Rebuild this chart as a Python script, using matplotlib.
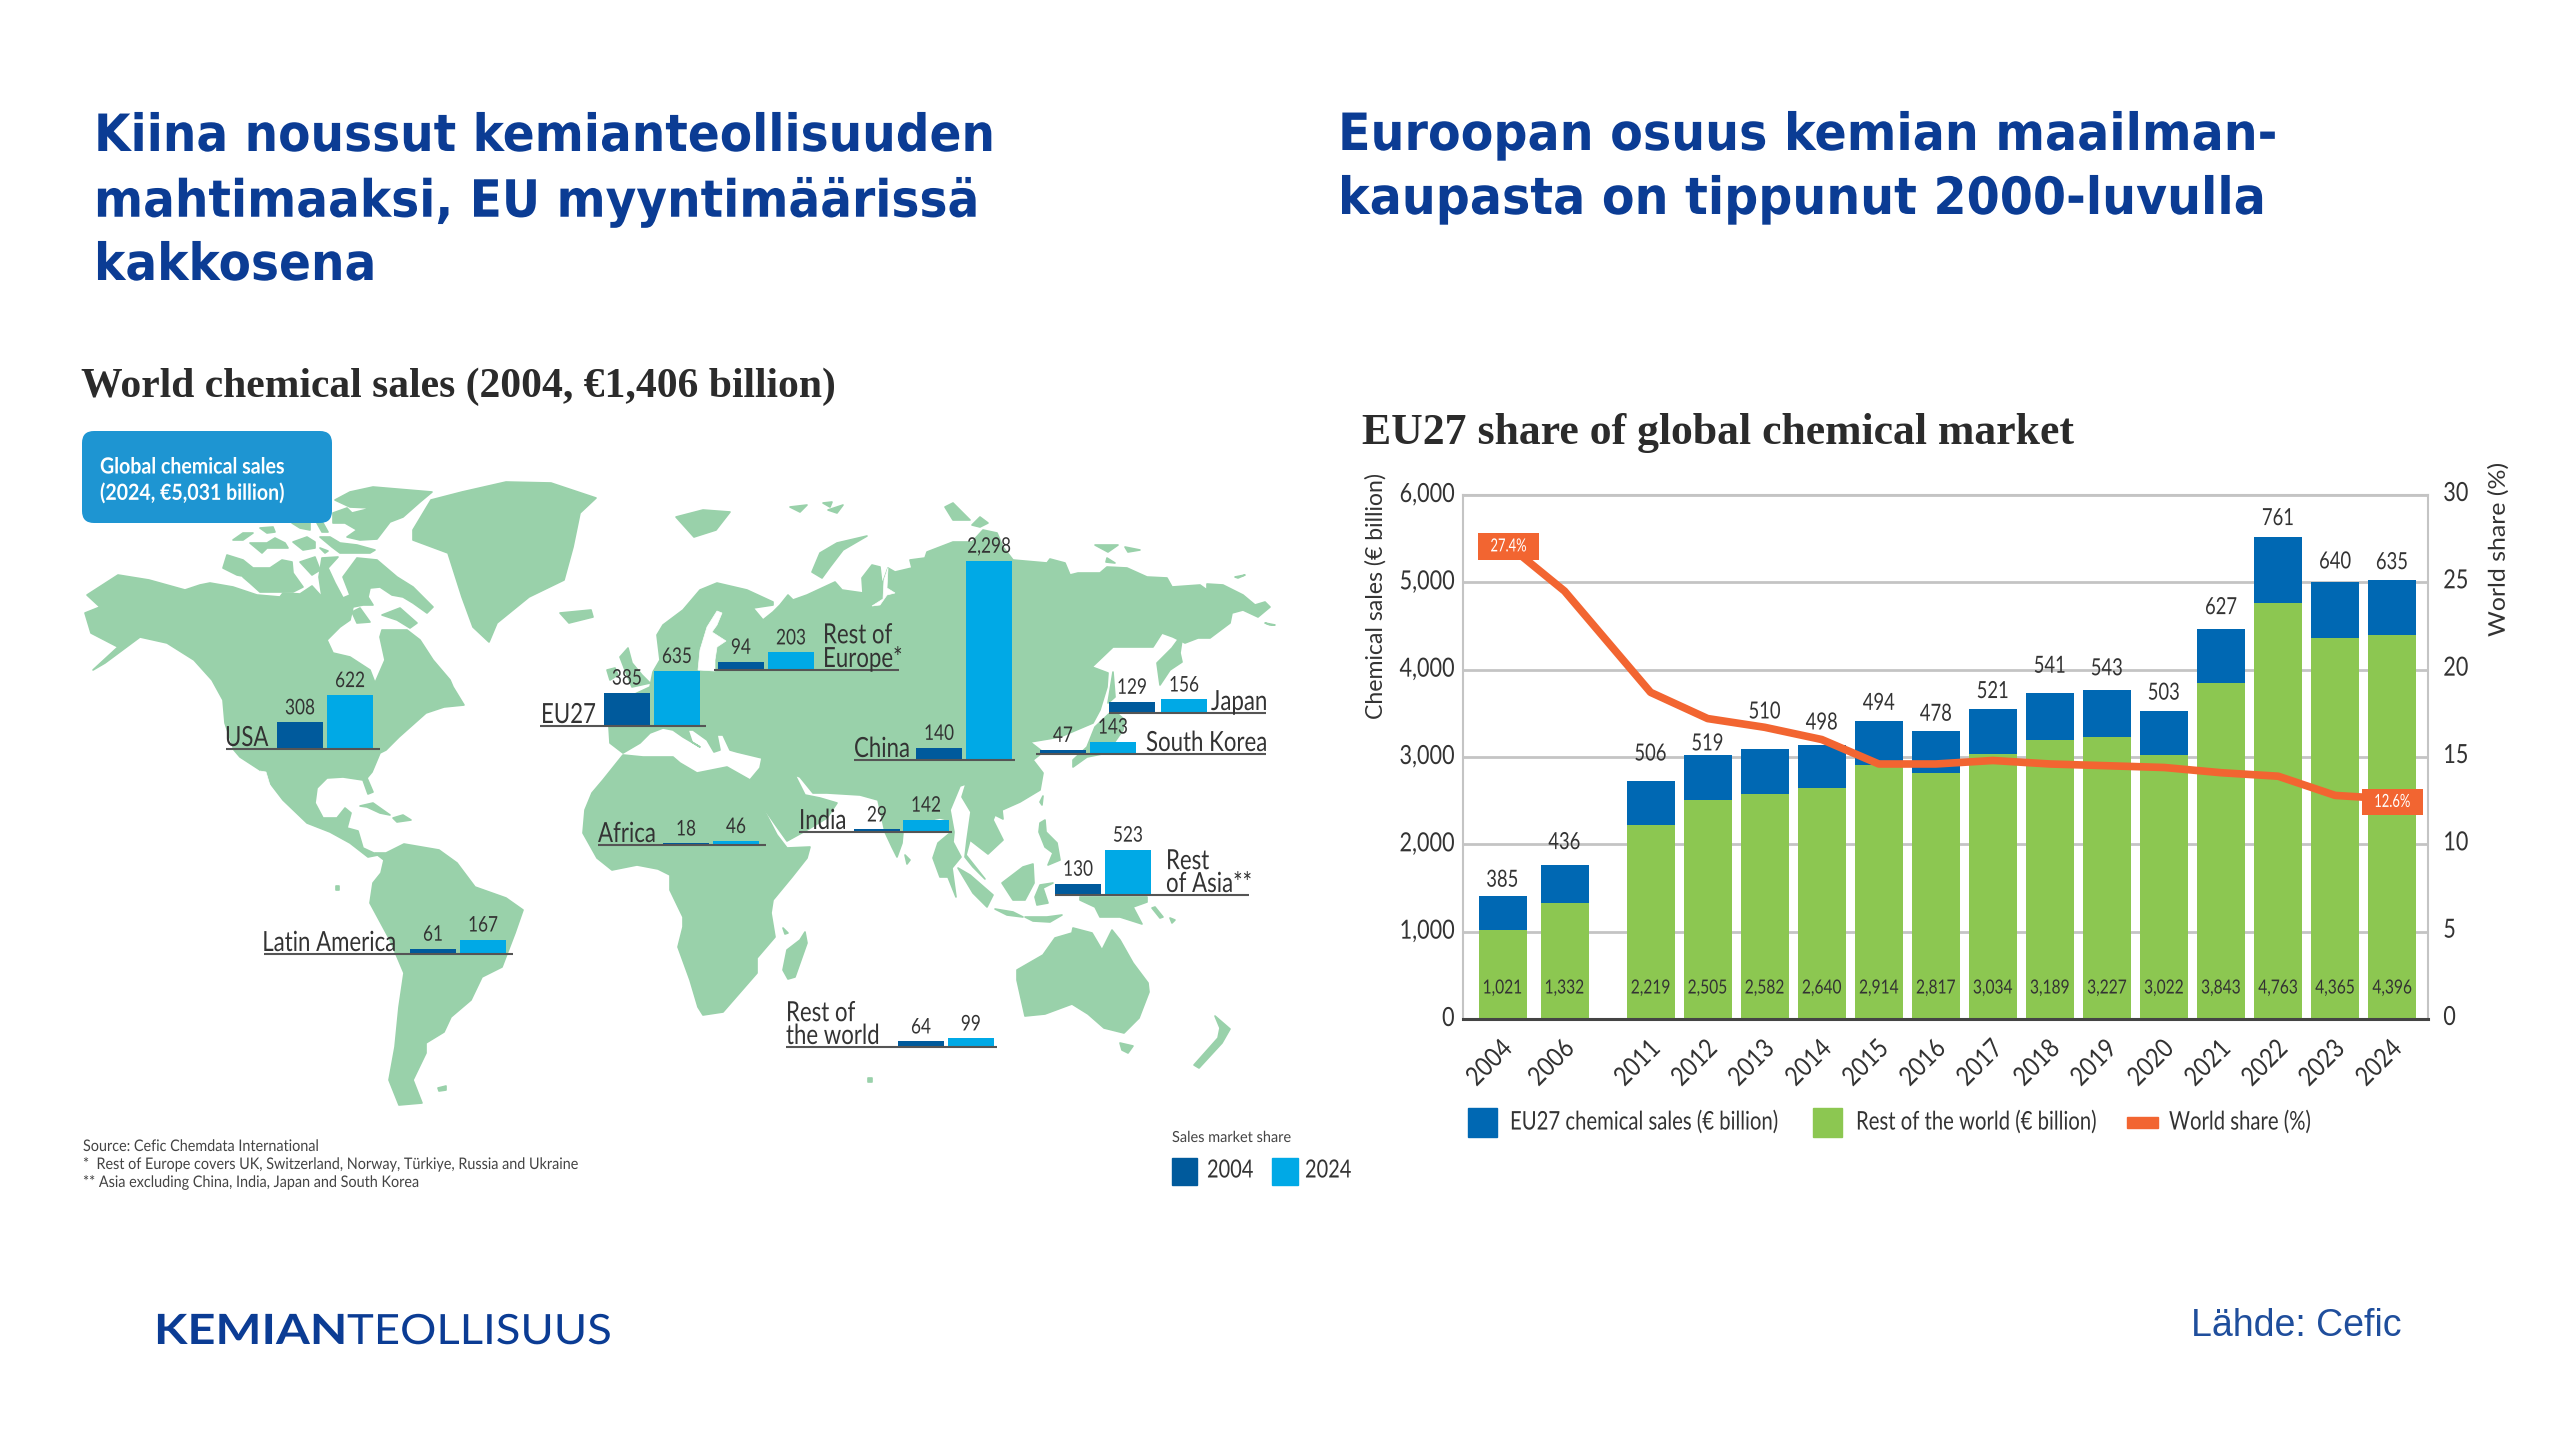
import matplotlib
matplotlib.use("Agg")
from matplotlib import pyplot as plt
from matplotlib.patches import FancyBboxPatch, Polygon, Rectangle
from matplotlib.patheffects import AbstractPathEffect
from matplotlib.transforms import Affine2D

# bar chart values
years = ["2004", "2006", "2011", "2012", "2013", "2014", "2015", "2016", "2017", "2018", "2019", "2020", "2021", "2022", "2023", "2024"]
eu27_sales = [385, 436, 506, 519, 510, 498, 494, 478, 521, 541, 543, 503, 627, 761, 640, 635]
rest_sales = [1021, 1332, 2219, 2505, 2582, 2640, 2914, 2817, 3034, 3189, 3227, 3022, 3843, 4763, 4365, 4396]
world_share = [27.4, 24.5, 18.7, 17.2, 16.7, 16.0, 14.6, 14.6, 14.8, 14.6, 14.5, 14.4, 14.1, 13.9, 12.8, 12.6]

# map values
regions = ["USA", "EU27", "Rest of\nEurope*", "China", "Japan", "South Korea", "India", "Africa", "Rest\nof Asia**", "Rest of\nthe world", "Latin America"]
sales_2004 = [308, 385, 94, 140, 129, 47, 29, 18, 130, 64, 61]
sales_2024 = [622, 635, 203, 2298, 156, 143, 142, 46, 523, 99, 167]

# where each region's little bars sit on the slide, in pixels
dark_left = [277, 604, 718, 916, 1109, 1040, 854, 663, 1055, 898, 410]
light_left = [327, 654, 768, 966, 1161, 1090, 903, 713, 1105, 948, 460]
base_y = [749, 726, 670, 760, 713, 754, 832, 845, 895, 1047, 954]
rule_x = [(226, 380), (540, 706), (714, 899), (854, 1015), (1109, 1266), (1036, 1266), (799, 952), (598, 766), (1055, 1249), (786, 997), (264, 513)]
label_x = [225, 541, 823, 854, 1211, 1146, 799, 598, 1166, 786, 397]
label_ha = ["left"] * 10 + ["right"]

BLUE_TITLE = "#0b3c94"
LAND = "#99d1aa"
DARK = "#005a9c"
LIGHT = "#00a9e6"
TEXT = "#333333"
GREEN = "#8cc751"
BLUE = "#0068b3"
ORANGE = "#f26531"
GRID = "#c4c4c4"

# land shapes, pixels on the slide, traced by eye
north_america = [(87, 595), (118, 575), (149, 580), (185, 590), (200, 585), (210, 583), (233, 587), (257, 595), (280, 597), (283, 593), (300, 594), (312, 586), (322, 597), (319, 577), (322, 558), (338, 557), (328, 568), (335, 583), (343, 598), (350, 595), (343, 577), (357, 558), (377, 560), (397, 577), (413, 587), (433, 607), (427, 613), (413, 603), (403, 597), (392, 595), (380, 587), (370, 588), (368, 597), (373, 605), (363, 605), (353, 607), (350, 620), (340, 627), (327, 640), (333, 653), (350, 657), (370, 670), (375, 683), (385, 660), (380, 637), (382, 630), (407, 630), (420, 640), (433, 660), (450, 680), (453, 687), (464, 705), (444, 707), (426, 713), (399, 737), (386, 750), (380, 753), (372, 772), (367, 778), (373, 792), (368, 794), (363, 780), (343, 777), (327, 778), (317, 788), (315, 803), (323, 818), (337, 818), (345, 808), (351, 813), (347, 828), (358, 831), (363, 848), (378, 855), (368, 857), (350, 843), (330, 832), (307, 823), (283, 800), (260, 770), (240, 757), (234, 750), (225, 723), (223, 700), (212, 680), (194, 660), (167, 643), (140, 637), (105, 663), (93, 670), (118, 647), (91, 633), (85, 613), (100, 607)]
south_america = [(375, 853), (386, 853), (404, 844), (439, 850), (457, 863), (475, 887), (506, 898), (523, 910), (515, 933), (502, 967), (482, 977), (471, 1000), (451, 1017), (444, 1032), (426, 1043), (426, 1053), (413, 1080), (422, 1103), (399, 1105), (389, 1080), (395, 1047), (399, 1007), (404, 973), (390, 940), (370, 903), (373, 883), (381, 873), (384, 860)]
greenland = [(413, 530), (431, 500), (462, 492), (506, 482), (551, 483), (596, 498), (580, 513), (573, 547), (564, 580), (529, 597), (497, 623), (489, 642), (473, 627), (462, 597), (448, 553), (413, 540)]
eurasia = [(609, 727), (605, 708), (650, 687), (653, 672), (660, 660), (657, 635), (663, 625), (683, 610), (700, 590), (717, 583), (747, 590), (773, 602), (773, 605), (753, 608), (763, 620), (773, 612), (780, 605), (788, 595), (793, 600), (807, 595), (835, 582), (842, 590), (863, 593), (862, 578), (872, 565), (880, 567), (882, 585), (888, 568), (895, 572), (912, 568), (910, 560), (925, 558), (927, 552), (953, 542), (972, 542), (983, 530), (997, 533), (1003, 547), (1013, 560), (1047, 563), (1050, 559), (1065, 563), (1070, 575), (1078, 573), (1100, 573), (1107, 567), (1127, 568), (1147, 577), (1167, 578), (1172, 587), (1200, 585), (1207, 590), (1207, 584), (1223, 585), (1243, 595), (1255, 605), (1265, 602), (1270, 607), (1258, 617), (1243, 610), (1232, 613), (1230, 623), (1210, 638), (1198, 638), (1185, 643), (1173, 637), (1162, 633), (1153, 647), (1140, 647), (1113, 647), (1092, 667), (1108, 673), (1107, 687), (1100, 710), (1093, 723), (1060, 737), (1030, 742), (1043, 752), (1033, 760), (1043, 773), (1040, 790), (1020, 802), (1002, 810), (1003, 819), (995, 815), (993, 820), (1003, 840), (988, 854), (970, 840), (966, 855), (985, 879), (973, 867), (965, 857), (967, 840), (971, 812), (962, 797), (966, 784), (960, 786), (950, 810), (954, 832), (953, 842), (961, 857), (952, 868), (956, 897), (948, 877), (940, 877), (933, 858), (938, 843), (950, 833), (948, 820), (940, 818), (935, 819), (903, 832), (902, 843), (897, 857), (892, 847), (885, 832), (878, 800), (860, 795), (827, 793), (813, 793), (800, 777), (795, 775), (805, 795), (820, 798), (837, 803), (827, 818), (807, 830), (787, 841), (777, 827), (763, 807), (752, 785), (750, 780), (760, 768), (762, 758), (737, 752), (730, 750), (723, 735), (717, 735), (720, 750), (714, 752), (707, 740), (693, 730), (688, 730), (692, 742), (700, 747), (683, 737), (673, 730), (663, 728), (650, 733), (640, 743), (623, 753), (610, 743)]
africa = [(623, 755), (643, 757), (673, 757), (680, 763), (697, 773), (727, 767), (750, 780), (750, 783), (763, 808), (777, 835), (787, 848), (810, 847), (807, 858), (792, 877), (773, 900), (771, 913), (775, 937), (757, 958), (757, 973), (723, 1012), (703, 1015), (698, 1007), (690, 980), (678, 947), (683, 927), (683, 917), (670, 890), (670, 875), (658, 869), (637, 865), (612, 870), (597, 858), (583, 833), (585, 810), (592, 793), (603, 780)]
australia = [(1017, 970), (1043, 955), (1055, 938), (1072, 933), (1073, 928), (1092, 933), (1102, 950), (1112, 930), (1120, 940), (1133, 963), (1148, 983), (1149, 992), (1139, 1018), (1124, 1033), (1104, 1028), (1088, 1014), (1072, 1004), (1045, 1014), (1025, 1016), (1017, 980)]
islands = [
    [(227, 555), (243, 560), (253, 568), (270, 568), (282, 560), (292, 562), (293, 573), (303, 587), (293, 592), (260, 592), (250, 583), (243, 577), (263, 580), (237, 575), (223, 568)],
    [(300, 562), (315, 557), (320, 570), (312, 575)],
    [(233, 540), (243, 533), (253, 533), (243, 540)],
    [(250, 543), (267, 543), (275, 538), (285, 543), (288, 548), (267, 548), (262, 553)],
    [(293, 542), (307, 537), (315, 542), (315, 548), (303, 550)],
    [(320, 537), (330, 537), (340, 543), (357, 545), (375, 550), (370, 553), (340, 553), (332, 547)],
    [(260, 528), (273, 527), (275, 532), (267, 533)],
    [(320, 548), (328, 551), (325, 553)],
    [(292, 523), (310, 523), (310, 530), (300, 528)],
    [(317, 523), (323, 523), (328, 532), (322, 532)],
    [(335, 500), (350, 492), (373, 487), (432, 492), (420, 502), (403, 517), (390, 522), (377, 539), (360, 540), (347, 537), (357, 530), (345, 523), (333, 523), (333, 513), (347, 508), (352, 513), (372, 508), (350, 507)],
    [(352, 612), (360, 608), (370, 622), (357, 623)],
    [(382, 615), (400, 608), (417, 623), (410, 628), (397, 620)],
    [(560, 613), (591, 610), (593, 617), (569, 623)],
    [(676, 517), (703, 510), (730, 512), (716, 530), (694, 537)],
    [(360, 806), (373, 803), (390, 815), (380, 813), (367, 807)],
    [(393, 818), (403, 815), (411, 820), (397, 822)],
    [(620, 657), (628, 648), (632, 663), (642, 675), (650, 683), (632, 687), (625, 670)],
    [(607, 670), (615, 668), (618, 675), (610, 680)],
    [(805, 932), (807, 943), (795, 977), (788, 979), (783, 970), (787, 950), (800, 940)],
    [(783, 928), (788, 933), (785, 934)],
    [(905, 855), (910, 860), (907, 864)],
    [(1073, 767), (1087, 757), (1107, 753), (1123, 730), (1125, 720), (1113, 710), (1095, 727), (1087, 747), (1073, 760)],
    [(1108, 703), (1113, 672), (1115, 697)],
    [(1157, 663), (1172, 648), (1183, 633), (1180, 653), (1182, 662), (1170, 670), (1160, 685)],
    [(1095, 545), (1118, 545), (1108, 552)],
    [(1125, 547), (1140, 550), (1128, 552)],
    [(1107, 558), (1115, 563), (1106, 562)],
    [(1235, 577), (1245, 575), (1238, 578)],
    [(1265, 623), (1275, 625), (1270, 625)],
    [(945, 507), (953, 503), (970, 520), (953, 520)],
    [(972, 525), (980, 517), (988, 523), (980, 527)],
    [(812, 572), (820, 553), (837, 543), (867, 536), (843, 550), (830, 567), (822, 578)],
    [(790, 507), (807, 505), (800, 512)],
    [(823, 503), (832, 502), (830, 507)],
    [(828, 510), (843, 505), (837, 513)],
    [(1040, 823), (1045, 820), (1046, 832), (1057, 843), (1060, 860), (1048, 865), (1053, 853), (1045, 847), (1039, 832)],
    [(1040, 802), (1043, 796), (1042, 805)],
    [(1002, 883), (1023, 867), (1033, 864), (1034, 883), (1025, 900), (1013, 900)],
    [(1035, 897), (1040, 885), (1053, 883), (1043, 888), (1048, 903), (1037, 905)],
    [(958, 868), (970, 875), (993, 895), (987, 907), (973, 893)],
    [(995, 909), (1013, 912), (1023, 917), (1007, 915)],
    [(1025, 917), (1047, 917), (1062, 915), (1050, 922), (1033, 921)],
    [(1080, 897), (1147, 897), (1147, 902), (1133, 907), (1142, 924), (1120, 917), (1100, 917), (1095, 907), (1080, 900)],
    [(1155, 907), (1163, 917), (1160, 918), (1152, 908)],
    [(1170, 918), (1175, 920), (1172, 923)],
    [(1120, 1043), (1133, 1046), (1128, 1053), (1122, 1050)],
    [(1215, 1016), (1230, 1029), (1222, 1043), (1199, 1068), (1194, 1065), (1218, 1038), (1220, 1028)],
    [(868, 1078), (872, 1078), (872, 1082), (868, 1082)],
    [(336, 886), (339, 886), (339, 890), (336, 890)],
    [(438, 1088), (446, 1086), (446, 1090), (439, 1091)],
]
water = [
    [(698, 670), (700, 650), (707, 627), (717, 611), (722, 613), (717, 625), (712, 632), (726, 641), (717, 647), (715, 660), (715, 671)],
    [(872, 606), (883, 599), (884, 580), (888, 568), (887, 588), (895, 593), (887, 595), (880, 605)],
    [(260, 771), (266, 772), (275, 802), (270, 798)],
]


class Squeeze(AbstractPathEffect):
    # the source text is a condensed face, so narrow the glyphs along the baseline
    def __init__(self, sx, ha="left", dx=0, dy=0):
        self.sx = sx
        self.ha = ha
        self.dx = dx
        self.dy = dy

    def draw_path(self, renderer, gc, tpath, affine, rgbFace=None):
        width = tpath.get_extents().x1
        shift = {"left": 0, "center": (1 - self.sx) * width / 2, "right": (1 - self.sx) * width}[self.ha]
        narrow = Affine2D().scale(self.sx, 1).translate(shift, 0) + affine + Affine2D().translate(self.dx, self.dy)
        renderer.draw_path(gc, tpath, narrow, rgbFace)


def sq(txt, sx, dx=0, dy=0):
    txt.set_path_effects([Squeeze(sx, txt.get_ha(), dx, dy)])
    return txt


plt.rcParams["font.family"] = ["Lato", "DejaVu Sans"]

fig = plt.figure(figsize=(25.6, 14.4), dpi=100, facecolor="white")
W, H = 2560, 1440

# whole slide axes in pixels, for the titles, the map and the logo
bg = fig.add_axes([0, 0, 1, 1])
bg.set_xlim(0, W)
bg.set_ylim(H, 0)
bg.axis("off")

title_style = dict(family="DejaVu Sans", weight="bold", fontsize=37, color=BLUE_TITLE, va="center")
for y, line in zip([137, 202, 266], ["Kiina noussut kemianteollisuuden", "mahtimaaksi, EU myyntimäärissä", "kakkosena"]):
    sq(bg.text(94, y, line, **title_style), 0.917)
for y, line in zip([136, 200], ["Euroopan osuus kemian maailman-", "kaupasta on tippunut 2000-luvulla"]):
    sq(bg.text(1338, y, line, **title_style), 0.927)

serif_style = dict(family="Liberation Serif", weight="bold", color="#2b2b2b", va="center")
bg.text(81, 387, "World chemical sales (2004, €1,406 billion)", fontsize=30, **serif_style)
bg.text(1362, 433, "EU27 share of global chemical market", fontsize=31.5, **serif_style)

# the map
for shape in [north_america, south_america, greenland, eurasia, africa, australia] + islands:
    bg.add_patch(Polygon(shape, closed=True, facecolor=LAND, edgecolor=LAND, lw=1.2, joinstyle="round", zorder=1))
for shape in water:
    bg.add_patch(Polygon(shape, closed=True, facecolor="white", edgecolor="white", lw=0.5, zorder=1.5))

bar_scale = 0.0867
bar_w = 46
for i, name in enumerate(regions):
    bg.bar(dark_left[i], -sales_2004[i] * bar_scale, bar_w, bottom=base_y[i], align="edge", color=DARK, zorder=3)
    bg.bar(light_left[i], -sales_2024[i] * bar_scale, bar_w, bottom=base_y[i], align="edge", color=LIGHT, zorder=3)
    bg.plot(rule_x[i], [base_y[i], base_y[i]], color="#555555", lw=1.5, zorder=4, solid_capstyle="butt")
    sq(bg.text(dark_left[i] + bar_w / 2, base_y[i] - sales_2004[i] * bar_scale - 14, f"{sales_2004[i]:,}",
               fontsize=15.5, color=TEXT, ha="center", va="center", zorder=5), 0.8)
    sq(bg.text(light_left[i] + bar_w / 2, base_y[i] - sales_2024[i] * bar_scale - 14, f"{sales_2024[i]:,}",
               fontsize=15.5, color=TEXT, ha="center", va="center", zorder=5), 0.8)
    sq(bg.text(label_x[i], base_y[i] - 3, name, fontsize=20, color=TEXT, ha=label_ha[i], va="baseline",
               linespacing=0.85, zorder=5), 0.8)

bg.add_patch(FancyBboxPatch((88, 437), 238, 80, boxstyle="round,pad=6,rounding_size=12",
                            facecolor="#1e95d2", edgecolor="none", zorder=6))
sq(bg.text(100, 467, "Global chemical sales", fontsize=16, color="white", weight="bold", va="center", zorder=7), 0.88)
sq(bg.text(100, 493, "(2024, €5,031 billion)", fontsize=16, color="white", weight="bold", va="center", zorder=7), 0.88)

notes = ["Source: Cefic Chemdata International",
         "*  Rest of Europe covers UK, Switzerland, Norway, Türkiye, Russia and Ukraine",
         "** Asia excluding China, India, Japan and South Korea"]
for y, line in zip([1147, 1165, 1183], notes):
    sq(bg.text(83, y, line, fontsize=11.5, color="#444444", va="center"), 0.9)

sq(bg.text(1172, 1138, "Sales market share", fontsize=11, color="#444444", va="center"), 0.95)
bg.add_patch(Rectangle((1172, 1158), 25, 27, color=DARK))
sq(bg.text(1207, 1170, "2004", fontsize=18, color=TEXT, va="center"), 0.8)
bg.add_patch(Rectangle((1272, 1158), 26, 27, color=LIGHT))
sq(bg.text(1305, 1170, "2024", fontsize=18, color=TEXT, va="center"), 0.8)

# logo and source
sq(bg.text(154, 1332, "KEMIAN", weight="bold", fontsize=30, color=BLUE_TITLE, va="center"), 1.17)
sq(bg.text(347, 1332, "TEOLLISUUS", weight="normal", fontsize=30, color=BLUE_TITLE, va="center"), 1.09)
bg.text(2191, 1326, "Lähde: Cefic", family="Liberation Sans", fontsize=27, color="#1f4e9c", va="center")

# stacked bars
px_left, px_right, px_top, px_bottom = 1463, 2428, 495, 1019
ax = fig.add_axes([px_left / W, 1 - px_bottom / H, (px_right - px_left) / W, (px_bottom - px_top) / H])
slots = [0.04, 1.12] + [2.62 + n * 0.994 for n in range(14)]
ax.bar(slots, rest_sales, 0.837, color=GREEN, zorder=2)
ax.bar(slots, eu27_sales, 0.837, bottom=rest_sales, color=BLUE, zorder=2)
ax.set_xlim(-0.649, 16.165)
ax.set_ylim(0, 6000)
ax.set_yticks(range(0, 6001, 1000))
ax.set_yticklabels([f"{v:,}" for v in range(0, 6001, 1000)], fontsize=19, color=TEXT)
ax.grid(axis="y", color=GRID, lw=2, zorder=1)
ax.set_axisbelow(True)
ax.tick_params(axis="both", length=0)
ax.tick_params(axis="y", pad=6)
ax.set_xticks(slots)
ax.set_xticklabels(years, fontsize=19, color=TEXT, rotation=45, ha="right", rotation_mode="anchor")
ax.tick_params(axis="x", pad=12)
for label in ax.get_yticklabels():
    sq(label, 0.82, dy=3)
for label in ax.get_xticklabels():
    sq(label, 0.86, dx=-3)
for side in ["top", "left", "right"]:
    ax.spines[side].set_color(GRID)
    ax.spines[side].set_linewidth(1.5)
ax.spines["bottom"].set_color("#444444")
ax.spines["bottom"].set_linewidth(2.2)

# distance of the total labels above their bars, in pixels
total_lift = [16, 22, 27, 11, 37, 22, 18, 17, 17, 27, 21, 18, 21, 18, 20, 17]
for i, x in enumerate(slots):
    total = rest_sales[i] + eu27_sales[i]
    sq(ax.annotate(f"{eu27_sales[i]}", (x, total), xytext=(0, total_lift[i]), textcoords="offset pixels",
                   fontsize=17, color=TEXT, ha="center", va="center", zorder=5), 0.78)
    sq(ax.annotate(f"{rest_sales[i]:,}", (x, 0), xytext=(0, 31), textcoords="offset pixels",
                   fontsize=14, color=TEXT, ha="center", va="center", zorder=5), 0.8)

# share line on the right axis
ax2 = ax.twinx()
ax2.set_ylim(0, 30)
ax2.set_yticks(range(0, 31, 5))
ax2.set_yticklabels([str(v) for v in range(0, 31, 5)], fontsize=19, color=TEXT)
ax2.tick_params(axis="y", length=0, pad=11)
for label in ax2.get_yticklabels():
    sq(label, 0.82, dy=4)
for spine in ax2.spines.values():
    spine.set_visible(False)
ax2.plot(slots, world_share, color=ORANGE, lw=5.5, zorder=4, solid_joinstyle="round")
for i, shift in [(0, (6, -6)), (len(slots) - 1, (0, -3))]:
    sq(ax2.annotate(f"{world_share[i]}%", (slots[i], world_share[i]), xytext=shift, textcoords="offset pixels",
                    fontsize=13, color="white", ha="center", va="center", zorder=6,
                    bbox=dict(boxstyle="square,pad=0.3", facecolor=ORANGE, edgecolor="none")), 0.72)

bg.text(1376, 596, "Chemical sales (€ billion)", fontsize=16.6, color=TEXT, rotation=90, ha="center", va="center", zorder=7)
sq(bg.text(2498, 550, "World share (%)", fontsize=16.6, color=TEXT, rotation=90, ha="center", va="center", zorder=7), 1.08)

# legend under the bars
bg.add_patch(Rectangle((1468, 1108), 29, 29, color=BLUE))
sq(bg.text(1510, 1122, "EU27 chemical sales (€ billion)", fontsize=18.5, color=TEXT, va="center"), 0.79)
bg.add_patch(Rectangle((1813, 1108), 29, 29, color=GREEN))
sq(bg.text(1856, 1122, "Rest of the world (€ billion)", fontsize=18.5, color=TEXT, va="center"), 0.79)
bg.add_patch(Rectangle((2127, 1117), 31, 11, color=ORANGE))
sq(bg.text(2169, 1122, "World share (%)", fontsize=18.5, color=TEXT, va="center"), 0.79)

fig.savefig("out.png", dpi=100)
